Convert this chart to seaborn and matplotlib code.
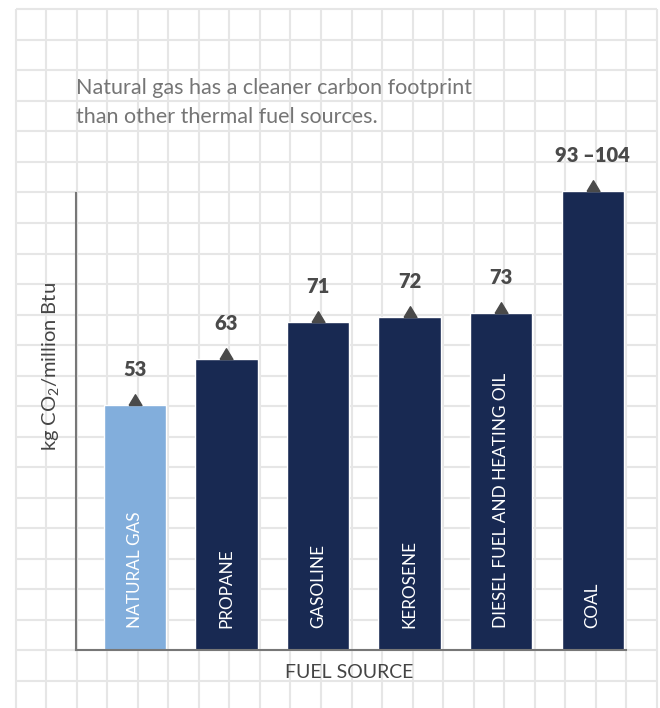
import numpy as np
import pandas as pd
import matplotlib
matplotlib.use('Agg')
import matplotlib.pyplot as plt
import seaborn as sns

# === Data ===
fuels = ['NATURAL GAS', 'PROPANE', 'GASOLINE', 'KEROSENE',
         'DIESEL FUEL AND HEATING OIL', 'COAL']
co2 = [53, 63, 71, 72, 73, 99.3]          # coal drawn at mid of the 93-104 range
value_labels = ['53', '63', '71', '72', '73', '93 \u2013104']
bar_colors = ['#82AEDC', '#182952', '#182952', '#182952', '#182952', '#182952']

df = pd.DataFrame({'fuel': fuels, 'co2': co2})

# === Style ===
sns.set_style('white')
plt.rcParams['font.family'] = ['Lato', 'DejaVu Sans']
plt.rcParams['mathtext.default'] = 'regular'

W, H = 660, 708
fig = plt.figure(figsize=(W / 100, H / 100), dpi=100)

# === Background graph-paper grid (pixel coords) ===
bg = fig.add_axes([0, 0, 1, 1], zorder=0)
bg.set_xlim(0, W)
bg.set_ylim(H, 0)
cell = 30.53
bg.vlines(15.7 + cell * np.arange(22), 9.3, H, color='#e6e6e6', lw=1.5)
bg.hlines(9.3 + cell * np.arange(23), 15.7, 15.7 + cell * 21, color='#e6e6e6', lw=1.5)
bg.axis('off')

# === Main bar chart ===
ax = fig.add_axes([76.3 / W, (H - 650) / H, 549.4 / W, 457.3 / H], zorder=1)
ax.patch.set_alpha(0)
sns.barplot(data=df, x='fuel', y='co2', hue='fuel', palette=bar_colors,
            width=0.68, saturation=1, legend=False, ax=ax)
ax.set_xlim(-0.64, 5.36)
ax.set_ylim(0, 99)
for p in ax.patches:
    p.set_clip_on(False)

# triangles sitting on the bar tops
tri = [(-0.6, 0), (0.6, 0), (0, 1), (-0.6, 0)]
ax.plot(range(len(fuels)), co2, ls='none', marker=tri, markersize=15.5,
        color='#4a4a4a', clip_on=False, zorder=5)

for i, (v, lab, name) in enumerate(zip(co2, value_labels, fuels)):
    ax.annotate(lab, xy=(i, v), xytext=(0, 21), textcoords='offset points',
                ha='center', va='baseline', fontsize=14.5, fontweight='heavy',
                color='#4a4a4a', annotation_clip=False)
    ax.annotate(name, xy=(i, 0), xytext=(0, 16), textcoords='offset points',
                ha='center', va='bottom', rotation=90, fontsize=12.3,
                color='white')

ax.set_xticks([])
ax.set_yticks([])
ax.set_xlabel('')
ax.set_ylabel('')
for side in ['top', 'right']:
    ax.spines[side].set_visible(False)
for side in ['left', 'bottom']:
    ax.spines[side].set_color('#777777')
    ax.spines[side].set_linewidth(1.5)

# === Texts ===
fig.text(76 / W, 1 - 123.3 / H,
         'Natural gas has a cleaner carbon footprint\nthan other thermal fuel sources.',
         ha='left', va='baseline', fontsize=15.5, color='#757575',
         linespacing=1.55, zorder=5)
fig.text(51 / W, 1 - 367 / H, 'kg CO$_2$/million Btu', rotation=90,
         ha='center', va='center', fontsize=14.5, color='#444444')
fig.text(349 / W, 1 - 672 / H, 'FUEL SOURCE', ha='center', va='center',
         fontsize=14, color='#444444')

fig.savefig('out.png', dpi=100)
